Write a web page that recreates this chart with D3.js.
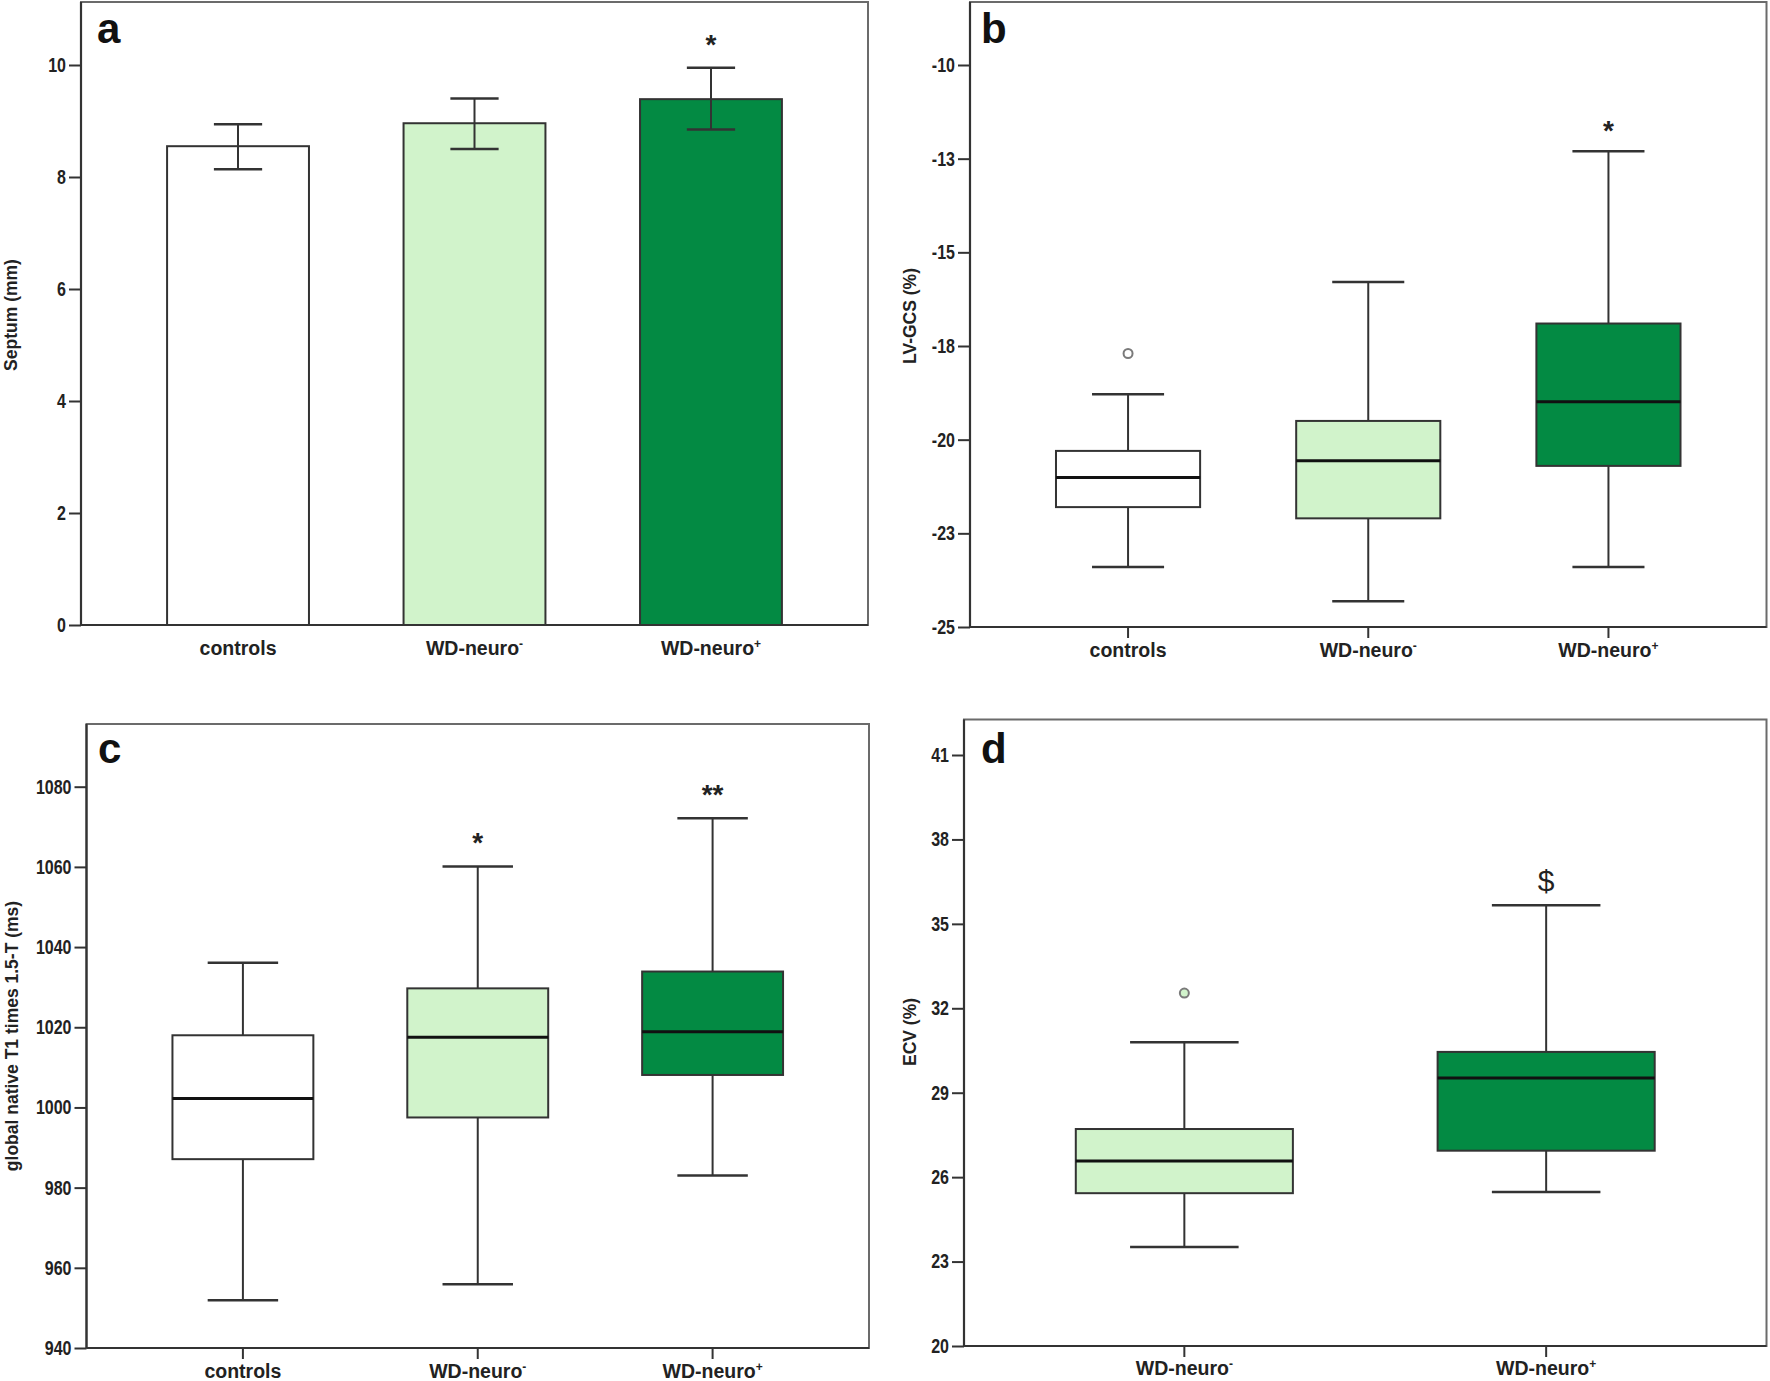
<!DOCTYPE html>
<html><head><meta charset="utf-8">
<script src="https://cdn.jsdelivr.net/npm/d3@7"></script>
<style>
html,body{margin:0;padding:0;background:#fff;}
svg{display:block;}
text{font-family:"Liberation Sans",Arial,sans-serif;}
</style></head>
<body>
<div id="chart"></div>
<script>
// ---------- DATA ----------
const groups3 = ["controls", "WD-neuro-", "WD-neuro+"];
const groups2 = ["WD-neuro-", "WD-neuro+"];

// Panel a: Septum (mm), mean with error bars
const septumMean = [8.55, 8.96, 9.39];
const septumLow  = [8.14, 8.50, 8.85];
const septumHigh = [8.94, 9.40, 9.95];
const septumTicks = [0, 2, 4, 6, 8, 10];

// Panel b: LV-GCS (%), box plots
const gcsWhiskLow  = [-23.40, -24.31, -23.40];
const gcsQ1        = [-21.80, -22.10, -20.70];
const gcsMedian    = [-21.01, -20.56, -18.99];
const gcsQ3        = [-20.30, -19.50, -16.90];
const gcsWhiskHigh = [-18.79, -15.79, -12.30];
const gcsOutliers  = [{group: "controls", value: -17.70}];
const gcsTickValues = [-10, -12.5, -15, -17.5, -20, -22.5, -25];
const gcsTickLabels = ["-10", "-13", "-15", "-18", "-20", "-23", "-25"];

// Panel c: global native T1 times 1.5-T (ms)
const t1WhiskLow  = [951.9, 955.9, 983.0];
const t1Q1        = [987.1, 997.5, 1008.1];
const t1Median    = [1002.2, 1017.5, 1018.9];
const t1Q3        = [1018.0, 1029.7, 1033.9];
const t1WhiskHigh = [1036.1, 1060.1, 1072.1];
const t1Ticks = [940, 960, 980, 1000, 1020, 1040, 1060, 1080];

// Panel d: ECV (%)
const ecvWhiskLow  = [23.52, 25.47];
const ecvQ1        = [25.43, 26.94];
const ecvMedian    = [26.57, 29.52];
const ecvQ3        = [27.71, 30.45];
const ecvWhiskHigh = [30.79, 35.66];
const ecvOutliers  = [{group: "WD-neuro-", value: 32.54}];
const ecvTicks = [20, 23, 26, 29, 32, 35, 38, 41];

// Significance marks
const marksA = [{group: "WD-neuro+", value: 10.5, text: "*"}];
const marksB = [{group: "WD-neuro+", value: -11.56, text: "*"}];
const marksC = [{group: "WD-neuro-", value: 1068, text: "*"}, {group: "WD-neuro+", value: 1080, text: "**"}];
const marksD = [{group: "WD-neuro+", value: 36.56, text: "$"}];

const groupColor = {"controls": "#ffffff", "WD-neuro-": "#d1f3cb", "WD-neuro+": "#038a43"};

// ---------- DRAW ----------
const W = 1770, H = 1381;
const svg = d3.select("#chart").append("svg").attr("width", W).attr("height", H);
svg.append("rect").attr("width", W).attr("height", H).attr("fill", "#fff");

const NARROW = 0.8;

function panel(o) {
  const g = svg.append("g");
  const y = d3.scaleLinear().domain(o.domain).range(o.yRange);
  const x = d3.scaleBand().domain(o.groups).range([o.left, o.right])
              .paddingInner(0.4).paddingOuter(o.po);

  // frame
  g.append("rect").attr("x", o.left).attr("y", o.top)
    .attr("width", o.right - o.left).attr("height", o.bottom - o.top)
    .attr("fill", "none").attr("stroke", "#6b6b6b").attr("stroke-width", 2);

  // y axis
  const ya = d3.axisLeft(y).tickValues(o.ticks).tickSize(12).tickPadding(3).tickSizeOuter(0)
    .tickFormat(o.tickFormat || d3.format("d"));
  const yg = g.append("g").attr("transform", `translate(${o.left},0)`).call(ya);
  yg.select(".domain").remove();
  g.append("line").attr("x1", o.left).attr("x2", o.left).attr("y1", o.top).attr("y2", o.bottom)
    .attr("stroke", "#333").attr("stroke-width", 2.2);
  yg.selectAll(".tick line").attr("stroke", "#333").attr("stroke-width", 2);
  yg.selectAll(".tick text").attr("font-size", 20).attr("font-weight", "bold").attr("fill", "#222")
    .attr("font-family", "'Liberation Sans', Arial, sans-serif")
    .attr("x", -15 / NARROW).attr("transform", `scale(${NARROW},1)`);

  // x axis
  const xa = d3.axisBottom(x).tickSize(o.xTicks ? 11 : 0).tickSizeOuter(0).tickFormat("");
  const xg = g.append("g").attr("transform", `translate(0,${o.bottom})`).call(xa);
  xg.select(".domain").remove();
  g.append("line").attr("x1", o.left).attr("x2", o.right).attr("y1", o.bottom).attr("y2", o.bottom)
    .attr("stroke", "#333").attr("stroke-width", 2.2);
  xg.selectAll(".tick line").attr("stroke", "#333").attr("stroke-width", 2);
  o.groups.forEach(gr => {
    const t = g.append("text").attr("x", x(gr) + x.bandwidth() / 2).attr("y", o.labelY)
      .attr("text-anchor", "middle").attr("font-size", 19.5).attr("font-weight", "bold").attr("fill", "#222");
    const m = gr.match(/^(.*?)([+-])$/);
    if (m) {
      t.append("tspan").text(m[1]);
      t.append("tspan").text(m[2]).attr("font-size", 12).attr("dy", -7);
    } else t.text(gr);
  });

  // y axis title
  g.append("text").attr("transform", `translate(${o.titleX},${o.titleY}) rotate(-90)`)
    .attr("text-anchor", "middle").attr("dy", "0.35em")
    .attr("font-size", 17.5).attr("font-weight", "bold").attr("fill", "#222").text(o.title);

  // panel letter
  g.append("text").attr("x", o.letterX).attr("y", o.letterY)
    .attr("font-size", 42).attr("font-weight", "bold").attr("fill", "#111").text(o.letter);

  return {g, x, y};
}

function drawBoxes(p, groups, lo, q1, med, q3, hi) {
  const {g, x, y} = p;
  const bw = x.bandwidth();
  groups.forEach((gr, i) => {
    const cx = x(gr) + bw / 2;
    const cap = bw * 0.5;
    const wl = "#333";
    g.append("line").attr("x1", cx).attr("x2", cx).attr("y1", y(hi[i])).attr("y2", y(q3[i]))
      .attr("stroke", wl).attr("stroke-width", 2);
    g.append("line").attr("x1", cx).attr("x2", cx).attr("y1", y(q1[i])).attr("y2", y(lo[i]))
      .attr("stroke", wl).attr("stroke-width", 2);
    [hi[i], lo[i]].forEach(v => g.append("line").attr("x1", cx - cap / 2).attr("x2", cx + cap / 2)
      .attr("y1", y(v)).attr("y2", y(v)).attr("stroke", wl).attr("stroke-width", 2.5));
    g.append("rect").attr("x", x(gr)).attr("y", y(q3[i])).attr("width", bw)
      .attr("height", y(q1[i]) - y(q3[i])).attr("fill", groupColor[gr])
      .attr("stroke", "#333").attr("stroke-width", 2);
    g.append("line").attr("x1", x(gr)).attr("x2", x(gr) + bw).attr("y1", y(med[i])).attr("y2", y(med[i]))
      .attr("stroke", "#111").attr("stroke-width", 3);
  });
}

function drawOutliers(p, outs) {
  const {g, x, y} = p;
  outs.forEach(d => g.append("circle").attr("cx", x(d.group) + x.bandwidth() / 2).attr("cy", y(d.value))
    .attr("r", 4.5).attr("fill", groupColor[d.group]).attr("stroke", "#7a7a7a").attr("stroke-width", 2));
}

function drawMarks(p, marks) {
  const {g, x, y} = p;
  marks.forEach(d => {
    const dollar = d.text === "$";
    const fs = dollar ? 30 : 28;
    g.append("text").attr("x", x(d.group) + x.bandwidth() / 2)
      .attr("y", y(d.value) + (dollar ? 0.36 : 0.6) * fs)
      .attr("text-anchor", "middle").attr("font-size", fs)
      .attr("font-weight", dollar ? "normal" : "bold").attr("fill", "#222").text(d.text);
  });
}

// Panel a
const pa = panel({groups: groups3, domain: [0, 10], yRange: [625, 65], left: 81, right: 868, top: 2, bottom: 625,
  po: 0.364, ticks: septumTicks, xTicks: false, labelY: 655, title: "Septum (mm)", titleX: 11, titleY: 315,
  letter: "a", letterX: 97, letterY: 43});
{
  const {g, x, y} = pa; const bw = x.bandwidth();
  groups3.forEach((gr, i) => {
    g.append("rect").attr("x", x(gr)).attr("y", y(septumMean[i])).attr("width", bw)
      .attr("height", y(0) - y(septumMean[i])).attr("fill", groupColor[gr])
      .attr("stroke", "#333").attr("stroke-width", 2);
    const cx = x(gr) + bw / 2, cap = bw * 0.34;
    g.append("line").attr("x1", cx).attr("x2", cx).attr("y1", y(septumHigh[i])).attr("y2", y(septumLow[i]))
      .attr("stroke", "#333").attr("stroke-width", 2);
    [septumHigh[i], septumLow[i]].forEach(v => g.append("line").attr("x1", cx - cap / 2).attr("x2", cx + cap / 2)
      .attr("y1", y(v)).attr("y2", y(v)).attr("stroke", "#333").attr("stroke-width", 2.5));
  });
  drawMarks(pa, marksA);
}

// Panel b
const pb = panel({groups: groups3, domain: [-25, -10], yRange: [627, 65], left: 970, right: 1766.5, top: 2, bottom: 627,
  po: 0.358, ticks: gcsTickValues, tickFormat: v => gcsTickLabels[gcsTickValues.indexOf(v)],
  xTicks: true, labelY: 657, title: "LV-GCS (%)", titleX: 910, titleY: 316,
  letter: "b", letterX: 981, letterY: 43});
drawBoxes(pb, groups3, gcsWhiskLow, gcsQ1, gcsMedian, gcsQ3, gcsWhiskHigh);
drawOutliers(pb, gcsOutliers);
drawMarks(pb, marksB);

// Panel c
const pc = panel({groups: groups3, domain: [940, 1080], yRange: [1348, 786.7], left: 86.5, right: 869, top: 724, bottom: 1348,
  po: 0.366, ticks: t1Ticks, xTicks: true, labelY: 1378, title: "global native T1 times 1.5-T (ms)", titleX: 12, titleY: 1036,
  letter: "c", letterX: 98, letterY: 763});
drawBoxes(pc, groups3, t1WhiskLow, t1Q1, t1Median, t1Q3, t1WhiskHigh);
drawMarks(pc, marksC);

// Panel d
const pd = panel({groups: groups2, domain: [20, 41], yRange: [1346, 755], left: 964, right: 1766.5, top: 719.5, bottom: 1346,
  po: 0.309, ticks: ecvTicks, xTicks: true, labelY: 1375, title: "ECV (%)", titleX: 910, titleY: 1032,
  letter: "d", letterX: 981, letterY: 763});
drawBoxes(pd, groups2, ecvWhiskLow, ecvQ1, ecvMedian, ecvQ3, ecvWhiskHigh);
drawOutliers(pd, ecvOutliers);
drawMarks(pd, marksD);
</script>
</body></html>
